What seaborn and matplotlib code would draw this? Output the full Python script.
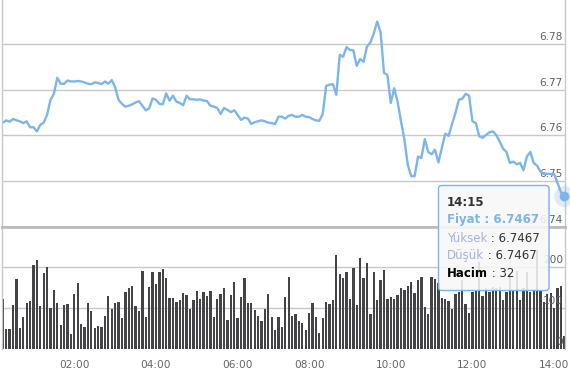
import pandas as pd
import matplotlib
matplotlib.use("Agg")
import matplotlib.pyplot as plt
import matplotlib.transforms as mtransforms
from matplotlib.patches import FancyBboxPatch
import seaborn as sns

# price (Fiyat) every 5 minutes, 00:15 -> 14:15
price = [
    6.7628, 6.7633, 6.7630, 6.7636, 6.7633, 6.7631, 6.7627, 6.7631, 6.7618, 6.7618,
    6.7609, 6.7623, 6.7628, 6.7645, 6.7678, 6.7691, 6.7726, 6.7713, 6.7713, 6.7720,
    6.7718, 6.7718, 6.7719, 6.7718, 6.7716, 6.7713, 6.7712, 6.7716, 6.7715, 6.7712,
    6.7718, 6.7713, 6.7721, 6.7705, 6.7678, 6.7669, 6.7663, 6.7665, 6.7668, 6.7672,
    6.7675, 6.7665, 6.7655, 6.7659, 6.7681, 6.7678, 6.7669, 6.7668, 6.7692, 6.7676,
    6.7687, 6.7674, 6.7671, 6.7666, 6.7687, 6.7679, 6.7679, 6.7678,
    6.7679, 6.7676, 6.7675, 6.7665, 6.7663, 6.7660, 6.7647, 6.7660, 6.7656, 6.7651,
    6.7655, 6.7645, 6.7634, 6.7639, 6.7637, 6.7625, 6.7629, 6.7631, 6.7633, 6.7631,
    6.7628, 6.7627, 6.7625, 6.7641, 6.7641, 6.7637, 6.7643, 6.7645, 6.7641, 6.7641,
    6.7645, 6.7641, 6.7640, 6.7636, 6.7633, 6.7632, 6.7647, 6.7708, 6.7711, 6.7712,
    6.7689, 6.7776, 6.7772, 6.7793, 6.7787, 6.7786, 6.7752, 6.7767, 6.7761, 6.7794,
    6.7803, 6.7823, 6.7849, 6.7826,
    6.7737, 6.7732, 6.7671, 6.7703, 6.7674, 6.7631, 6.7591, 6.7536, 6.7511, 6.7511,
    6.7554, 6.7551, 6.7592, 6.7564, 6.7559, 6.7569, 6.7541, 6.7572, 6.7604, 6.7599,
    6.7625, 6.7649, 6.7678, 6.7680, 6.7691, 6.7687, 6.7631, 6.7627, 6.7598, 6.7595,
    6.7601, 6.7607, 6.7609, 6.7601, 6.7587, 6.7571, 6.7564, 6.7540, 6.7543, 6.7537,
    6.7540, 6.7524, 6.7554, 6.7564, 6.7540, 6.7534, 6.7521, 6.7516, 6.7516, 6.7516,
    6.7516, 6.7496, 6.7476, 6.7467,
]

# volume (Hacim)
volume = [
    122, 49, 49, 107, 171, 51, 78, 112, 117, 205, 217, 105, 185, 200, 100, 144, 112, 59, 107, 110,
    37, 134, 161, 61, 54, 112, 93, 51, 56, 54, 80, 129, 98, 112, 115, 76, 139, 149, 154, 105,
    93, 190, 78, 151, 188, 159, 188, 195, 173, 124, 124, 115, 120, 137, 132, 98, 120, 141,
    122, 139, 129, 141, 78, 122, 134, 149, 71, 132, 163, 76, 127, 173, 112, 112, 95, 80, 68, 98,
    134, 78, 46, 78, 54, 127, 176, 80, 85, 68, 63, 46, 88, 112, 78, 39, 76, 115, 110, 120,
    229, 183, 173, 188, 122, 198, 107, 222, 173, 210, 85, 188, 120, 168, 193, 122,
    126, 121, 132, 150, 144, 155, 163, 136, 168, 176, 102, 85, 175, 170, 160,
    124, 121, 118, 97, 135, 140, 168, 110, 89, 140, 145, 213, 130, 150, 140, 152, 150, 152, 120, 140,
    185, 145, 190, 120, 150, 189, 140, 145, 241, 145, 115, 135, 138, 100, 150, 155, 32,
]

tick_idx = [21, 45, 69, 90, 114, 138, 162]
tick_labels = ["02:00", "04:00", "06:00", "08:00", "10:00", "12:00", "14:00"]
price_ticks = [6.74, 6.75, 6.76, 6.77, 6.78]
volume_ticks = [0, 100, 200]

last_time = "14:15"
last_price = "6.7467"
last_volume = "32"

df = pd.DataFrame({"idx": range(len(price)), "price": price, "volume": volume})

sns.set_style("white")
plt.rcParams["font.family"] = ["DejaVu Sans"]

LINE = "#7cb5ec"
BAR = "#434348"
GRID = "#c8c8c8"
SEP = "#bcbcbc"

W, H = 570, 387
fig = plt.figure(figsize=(W / 100, H / 100), dpi=100)
x0, x1 = 2 / W, 565 / W
ax_top = fig.add_axes([x0, (H - 227) / H, x1 - x0, 227 / H])
ax_bot = fig.add_axes([x0, (H - 349) / H, x1 - x0, 122 / H])

xlim = (-0.25, 165.2)

# ---- price panel
sns.lineplot(data=df, x="idx", y="price", ax=ax_top, color=LINE, lw=1.7)
ax_top.set_xlim(*xlim)
ax_top.set_ylim(6.74, 6.7896)
ax_top.set_yticks(price_ticks)
ax_top.grid(axis="y", color=GRID, lw=1)
ax_top.tick_params(left=False, bottom=False, labelleft=False, labelbottom=False)
ax_top.set_xlabel("")
ax_top.set_ylabel("")

# ---- volume panel
sns.barplot(data=df, x="idx", y="volume", ax=ax_bot, native_scale=True,
            color=BAR, saturation=1, width=0.68, linewidth=0, errorbar=None)
ax_bot.set_xlim(*xlim)
ax_bot.set_ylim(0, 298)
ax_bot.set_yticks(volume_ticks)
ax_bot.grid(axis="y", color=GRID, lw=1)
ax_bot.set_axisbelow(True)
ax_bot.set_xticks(tick_idx)
ax_bot.set_xticklabels(tick_labels)
ax_bot.tick_params(axis="x", length=6.5, width=1, color="#ccd6eb", pad=1.5,
                   labelsize=7.6, labelcolor="#666666")
ax_bot.tick_params(left=False, labelleft=False)
ax_bot.set_xlabel("")
ax_bot.set_ylabel("")

for ax in (ax_top, ax_bot):
    for side in ("left", "right"):
        ax.spines[side].set_color(GRID)
        ax.spines[side].set_linewidth(1)
ax_top.spines["top"].set_visible(False)
ax_top.spines["bottom"].set_color(SEP)
ax_top.spines["bottom"].set_linewidth(2)
ax_bot.spines["top"].set_color(SEP)
ax_bot.spines["top"].set_linewidth(2)
ax_bot.spines["bottom"].set_visible(False)

# right-side labels inside the plot
for ax, ticks, fmt in ((ax_top, price_ticks, "{:.2f}"), (ax_bot, volume_ticks, "{:d}")):
    tr = mtransforms.blended_transform_factory(ax.transAxes, ax.transData)
    for v in ticks:
        ax.annotate(fmt.format(v), xy=(1, v), xycoords=tr, xytext=(-1.5, 1.5),
                    textcoords="offset points", ha="right", va="bottom",
                    fontsize=7.6, color="#606060", zorder=1)

# hover marker on last point
last = df.iloc[-1]
ax_top.plot(last["idx"], last["price"], "o", ms=15, color=LINE, alpha=0.25,
            mec="none", clip_on=False, zorder=5)
ax_top.plot(last["idx"], last["price"], "o", ms=6, color=LINE, mec=LINE,
            clip_on=False, zorder=6)

# ---- tooltip (overlay in pixel space)
ov = fig.add_axes([0, 0, 1, 1], zorder=10)
ov.set_xlim(0, W)
ov.set_ylim(H, 0)
ov.axis("off")
ov.patch.set_alpha(0)

ov.add_patch(FancyBboxPatch((439.5, 186.5), 110.5, 105, boxstyle="round,pad=0,rounding_size=3",
                            fc="black", ec="none", alpha=0.06))
ov.add_patch(FancyBboxPatch((438.5, 185.5), 110.5, 105, boxstyle="round,pad=0,rounding_size=3",
                            fc=(0.98, 0.98, 0.98, 0.86), ec=LINE, lw=1))

renderer = fig.canvas.get_renderer()


def tip_line(y, parts, x=447):
    for txt, color, weight in parts:
        t = ov.text(x, y, txt, color=color, fontweight=weight, fontsize=8.5,
                    ha="left", va="center")
        x += t.get_window_extent(renderer).width


LABEL = "#a3b3e6"
DARK = "#333333"
tip_line(202, [(last_time, DARK, "bold")])
tip_line(220, [("Fiyat : " + last_price, LINE, "bold")])
tip_line(238, [("Yüksek", LABEL, "normal"), (" : " + last_price, DARK, "normal")])
tip_line(255.5, [("Düşük", LABEL, "normal"), (" : " + last_price, DARK, "normal")])
tip_line(273.5, [("Hacim", "black", "bold"), (" : " + last_volume, DARK, "normal")])

fig.savefig("out.png", dpi=100)
